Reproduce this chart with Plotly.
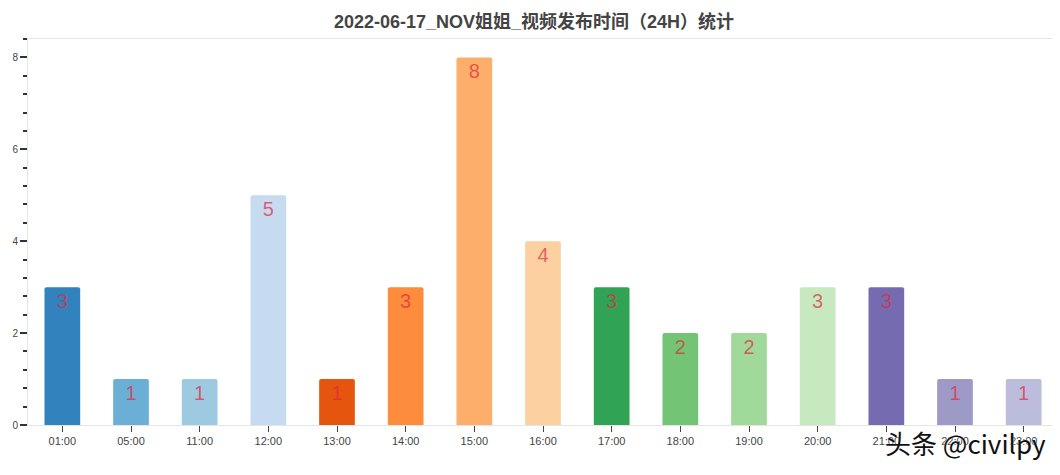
import plotly.graph_objects as go

# publish hour -> number of videos
hours = ["01:00", "05:00", "11:00", "12:00", "13:00", "14:00", "15:00", "16:00",
         "17:00", "18:00", "19:00", "20:00", "21:00", "22:00", "23:00"]
counts = [3, 1, 1, 5, 1, 3, 8, 4, 3, 2, 2, 3, 3, 1, 1]

# Category20c palette, first 15 colours
colors = ["#3182bd", "#6baed6", "#9ecae1", "#c6dbef", "#e6550d", "#fd8d3c",
          "#fdae6b", "#fdd0a2", "#31a354", "#74c476", "#a1d99b", "#c7e9c0",
          "#756bb1", "#9e9ac8", "#bcbddc"]

title = "2022-06-17_NOV姐姐_视频发布时间（24H）统计"

fig = go.Figure(go.Bar(
    x=hours, y=counts,
    marker=dict(color=colors, line=dict(width=0), cornerradius=2),
    width=0.52,
    text=counts,
    textposition="inside",
    insidetextanchor="end",
    textangle=0,
    textfont=dict(size=20, color="rgba(225,40,60,0.7)", family="Liberation Sans, Arial"),
    cliponaxis=False,
))

# the page body adds an 8px offset, so the figure is drawn 8px smaller
fig.update_layout(
    width=1052, height=467,
    margin=dict(l=20, r=2, t=31, b=50),
    plot_bgcolor="white", paper_bgcolor="white",
    showlegend=False,
    title=dict(text="<b>" + title + "</b>", x=0.5, xanchor="center", y=0.97, yanchor="middle",
               font=dict(size=18, color="#444444",
                         family="Liberation Sans, Noto Sans CJK SC, sans-serif")),
    font=dict(family="Liberation Sans, Noto Sans CJK SC, sans-serif", color="#444444"),
    uniformtext=dict(minsize=20, mode="show"),
)

fig.update_xaxes(
    type="category",
    range=[-0.5, len(hours) - 0.5],
    showgrid=False,
    showline=True, linecolor="#e5e5e5", linewidth=1, mirror=True,
    ticks="outside", ticklen=6, tickcolor="#444444", tickwidth=1,
    tickfont=dict(size=11, color="#444444"),
    fixedrange=True,
)
fig.update_yaxes(
    range=[0, 8.4],
    dtick=2, tick0=0,
    showgrid=False, zeroline=False,
    showline=True, linecolor="#e5e5e5", linewidth=1, mirror=True,
    ticks="outside", ticklen=7, tickcolor="#333333", tickwidth=1.5,
    tickfont=dict(size=10, color="#444444"),
    minor=dict(dtick=0.4, tick0=0, ticks="outside", ticklen=4, tickcolor="#333333", showgrid=False),
    fixedrange=True,
)

# blue slivers at the right edge
for y0, y1 in [(0.79, 0.87), (0.33, 0.405)]:
    fig.add_shape(type="rect", xref="paper", yref="paper", x0=0.997, x1=1.0, y0=y0, y1=y1,
                  fillcolor="#1b95d2", line=dict(width=0), layer="above")

# watermark
fig.add_annotation(text="头条 @civilpy", xref="paper", yref="paper", x=0.99, y=-0.045,
                   xanchor="right", yanchor="middle", showarrow=False,
                   font=dict(size=26, color="#111111", family="Noto Sans CJK SC, sans-serif",
                             shadow="0px 0px 2px white"))

fig.write_html("out.html")
